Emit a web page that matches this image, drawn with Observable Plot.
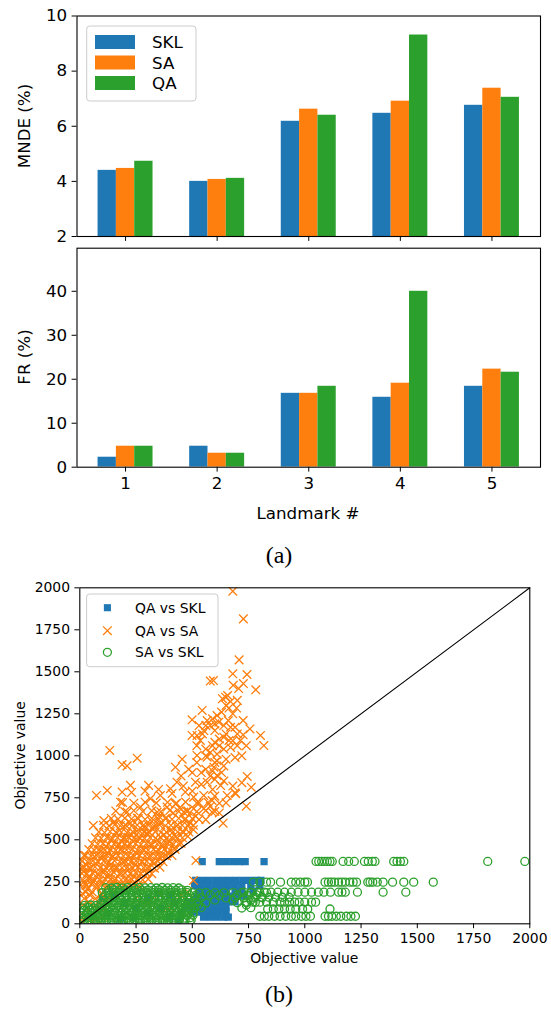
<!DOCTYPE html>
<html><head><meta charset="utf-8">
<script src="https://cdn.jsdelivr.net/npm/d3@7"></script>
<script src="https://cdn.jsdelivr.net/npm/@observablehq/plot@0.6"></script>
<style>
html,body{margin:0;padding:0;background:#fff;}
#root{position:relative;width:551px;height:1009px;overflow:hidden;font-family:'DejaVu Sans';}
#root > svg{position:absolute;left:0;}
#root text{font-family:'DejaVu Sans';}
#root text.serif{font-family:'Liberation Serif';}
</style></head><body><div id="root"></div>
<script>
// ---------- data ----------
const landmarks = [1, 2, 3, 4, 5];
const methods = ["SKL", "SA", "QA"];
const methodColors = ["#1f77b4", "#ff7f0e", "#2ca02c"];
const mndeSKL = [4.40, 4.00, 6.18, 6.47, 6.76];
const mndeSA  = [4.47, 4.07, 6.62, 6.91, 7.38];
const mndeQA  = [4.73, 4.11, 6.40, 9.31, 7.05];
const frSKL = [2.27, 4.77, 16.8, 15.9, 18.4];
const frSA  = [4.77, 3.18, 16.8, 19.1, 22.3];
const frQA  = [4.77, 3.18, 18.4, 40.0, 21.6];
const mndeTicks = [2, 4, 6, 8, 10];
const frTicks = [0, 10, 20, 30, 40];
const objTicks = [0, 250, 500, 750, 1000, 1250, 1500, 1750, 2000];
const scatterNames = ["QA vs SKL", "QA vs SA", "SA vs SKL"];
const diag = [0, 2000];

// QA vs SKL (objective values)
const qaVsSkl = [
[544,370],[620,370],[650,370],[680,370],[710,370],[735,370],[819,370],
[515,258],[545,258],[575,258],[605,258],[635,258],[665,258],[695,258],[725,258],[755,258],[785,258],[805,258],
[510,228],[540,228],[570,228],[600,228],[630,228],[660,228],[690,228],[720,228],[760,228],[800,228],
[530,195],[560,195],[590,195],[620,195],[650,195],[690,195],[720,195],[770,195],
[520,165],[550,165],[580,165],[610,165],[640,165],[670,165],[700,165],[730,165],
[480,130],[510,130],[540,130],[570,130],[600,130],[630,130],[660,130],[690,130],
[470,100],[500,100],[530,100],[560,100],[590,100],[620,100],[650,100],
[500,70],[530,70],[560,70],[590,70],[620,70],[650,70],
[550,40],[580,40],[610,40],[640,40],[660,40],
[100,150],[150,170],[200,120],[250,90],[300,150],[350,180],[400,170],[420,120],[450,60],
[60,40],[120,60],[180,30],[240,40],[300,60],[360,90],[400,40],[440,20]
];

// QA vs SA (objective values)
const qaVsSa = [
[680,1980],[727,1815],[708,1571],[680,1488],[743,1484],[594,1448],[580,1445],[782,1393],[682,1420],[706,1400],
[727,1430],[657,1359],[634,1340],[648,1349],[670,1323],[663,1284],[697,1284],[544,1270],[610,1240],[590,1220],
[499,1214],[566,1210],[618,1200],[640,1180],[726,1210],[660,1210],[690,1170],[580,1180],[545,1130],[499,1121],
[521,1121],[551,1150],[536,1091],[600,1150],[620,1100],[640,1111],[663,1091],[700,1130],[714,1091],[756,1160],
[803,1121],[818,1061],[726,1125],[670,1050],[640,1040],[590,1060],[560,1040],[610,1010],[650,980],[690,990],
[600,960],[640,940],[630,900],[580,880],[540,900],[520,960],
[133,1032],[188,948],[210,940],[255,986],[425,932],[455,980],[484,920],[521,1002],[566,992],[596,932],
[610,883],[626,823],[514,843],[566,843],[744,877],[762,813],[74,764],[122,794],[188,784],[225,824],
[306,824],[358,764],[432,843],[403,804],[469,784],[506,754],[551,764],[588,734],[655,764],[693,774],
[60,585],[107,615],[151,605],[181,724],[210,665],[270,695],[314,745],[344,665],[388,695],[425,714],
[462,665],[506,685],[551,685],[588,665],[637,599],[300,536],[19,407],[11,337],[516,377],[505,258],
[12,180],[25,240],[18,310],[35,205],[42,280],[30,350],[55,190],[60,250],[48,330],[65,400],
[75,215],[82,290],[70,360],[90,430],[95,180],[100,250],[108,320],[98,390],[115,460],[120,210],
[128,280],[135,350],[125,420],[140,500],[150,190],[155,260],[162,330],[148,400],[170,470],[165,540],
[178,230],[185,300],[192,370],[180,440],[200,510],[195,580],[210,250],[215,320],[222,390],[208,460],
[230,530],[225,600],[240,280],[245,350],[252,420],[238,490],[260,560],[255,630],[270,300],[278,370],
[285,440],[268,510],[290,580],[300,330],[308,400],[315,470],[298,540],[320,610],[330,360],[338,430],
[345,500],[328,570],[352,640],[360,390],[368,460],[375,530],[358,600],[390,420],[398,490],[405,560],
[385,630],[420,450],[428,520],[435,590],[415,660],[450,480],[458,550],[465,620],[445,690],[480,520],
[490,600],[475,670],[505,560],[515,640],[530,720],[560,620],[580,700],[600,760],[620,660],[650,720],
[690,780],[720,840],[740,700],
[5,20],[8,60],[14,110],[20,150],[26,190],[30,40],[36,90],[40,130],[46,170],[52,12],
[56,60],[62,105],[70,150],[76,30],[82,80],[90,120],[96,175],[100,40],[110,90],[120,140],
[250,150],[300,120],[350,180],[400,100],[450,170],[480,190],
[5,232],[28,228],[52,235],[75,229],[98,233],[122,227],[146,234],[170,230],[194,228],[218,235],[242,231],[266,226],
[15,262],[40,268],[63,264],[88,261],[112,267],[136,263],[160,269],[184,262],[208,266],[232,264],[256,268],[280,262],[304,266],
[8,302],[32,298],[56,304],[80,299],[104,303],[128,297],[152,305],[176,299],[200,303],[224,298],[248,304],[272,299],[296,303],[320,298],
[20,337],[44,333],[68,339],[92,334],[116,336],[140,332],[164,338],[188,333],[212,337],[236,332],[260,338],[284,334],[308,336],[332,331],[356,337],
[10,372],[34,368],[58,374],[82,369],[106,373],[130,367],[154,375],[178,369],[202,373],[226,368],[250,374],[274,369],[298,373],[322,367],[346,374],[370,369],
[26,407],[50,403],[74,409],[98,404],[122,406],[146,402],[170,408],[194,403],[218,407],[242,402],[266,408],[290,404],[314,406],[338,401],[362,407],[386,403],[410,406],
[40,442],[64,438],[88,444],[112,439],[136,443],[160,437],[184,445],[208,439],[232,443],[256,438],[280,444],[304,439],[328,443],[352,437],[376,444],[400,439],[424,442],
[55,477],[80,473],[104,479],[128,474],[152,476],[176,472],[200,478],[224,473],[248,477],[272,472],[296,478],[320,474],[344,476],[368,471],[392,477],[416,473],[440,476],
[70,512],[95,508],[120,514],[144,509],[168,513],[192,507],[216,515],[240,509],[264,513],[288,508],[312,514],[336,509],[360,513],[384,507],[408,514],[432,509],[456,512],
[85,547],[110,543],[135,549],[160,544],[185,546],[210,542],[235,548],[260,543],[285,547],[310,542],[335,548],[360,544],[385,546],[410,541],[435,547],[460,543],[485,546],
[105,587],[130,583],[155,589],[180,584],[205,586],[230,582],[255,588],[280,583],[305,587],[330,582],[355,588],[380,584],[405,586],[430,581],[455,587],[480,583],[505,586],
[140,627],[170,623],[200,629],[230,624],[260,626],[290,622],[320,628],[350,623],[380,627],[410,622],[440,628],[470,624],[500,626],[530,621],
[160,672],[200,668],[240,674],[280,669],[320,673],[360,667],[400,675],[440,669],[480,673],[520,668],[560,674],[600,669],
[190,722],[240,718],[290,724],[340,719],[390,723],[430,717],[470,725],[520,719],[570,723],[620,718],
[230,782],[290,790],[350,800],[410,776],[460,820],[500,790],[540,830],[590,800],[640,850],[680,820],[450,880],[500,900],[560,920],[600,860],
[560,1000],[580,1020],[600,1080],[620,1060],[650,1130],[670,1170],[630,1260],[650,1300],[680,1250],[700,1330],
[560,1180],[600,1190],[520,1060],[530,1180],[680,1090],[700,1060],[740,1060],[720,1000],[610,970],[590,910]
];

// SA vs SKL (objective values)
const saVsSkl = [
[1050,371],[1062,371],[1075,371],[1088,371],[1100,371],[1112,371],[1122,371],[1170,371],[1195,371],[1220,371],
[1265,371],[1282,371],[1300,371],[1312,371],[1395,371],[1410,371],[1425,371],[1440,371],[1813,371],[1978,371],
[772,248],[800,248],[830,248],[848,248],[892,248],[940,248],[960,248],[980,248],[1000,248],[1012,248],
[1090,248],[1105,248],[1118,248],[1132,248],[1150,248],[1165,248],[1180,248],[1200,248],[1215,248],[1230,248],
[1280,248],[1290,248],[1302,248],[1322,248],[1348,248],[1390,248],[1440,248],[1484,248],[1571,248],
[730,188],[760,188],[790,188],[820,188],[850,188],[880,188],[910,188],[940,188],[970,188],[1000,188],
[1030,188],[1060,188],[1085,188],[1114,188],[1150,188],[1165,188],[1180,188],[1234,188],[1348,188],[1449,188],
[780,158],[810,158],[840,158],[870,158],[900,158],[930,158],
[740,129],[770,129],[800,129],[830,129],[860,129],[890,129],[910,129],[932,129],[955,129],[975,129],[1000,129],[1030,129],[1048,129],
[835,88],[860,88],[885,88],[910,88],[935,88],[960,88],[990,88],[1013,88],[1112,88],
[800,45],[820,45],[840,45],[865,45],[890,45],[915,45],[940,45],[960,45],[985,45],[1005,45],
[1025,45],[1090,45],[1105,45],[1120,45],[1140,45],[1160,45],[1185,45],[1205,45],[1225,45],
[115,215],[142,213],[165,216],[190,214],[214,215],[241,213],[265,216],[290,214],[316,215],[340,213],[366,216],[390,214],[415,215],[440,213],
[100,186],[126,184],[150,187],[176,185],[200,184],[226,187],[251,185],[275,184],[300,186],[326,185],[350,187],[376,184],[400,186],
[425,185],[451,184],[475,187],[500,185],[531,184],[560,186],[601,185],[640,184],[681,186],[720,185],[762,184],[800,186],[830,185],
[105,156],[130,154],[156,157],[180,155],[205,154],[231,156],[255,155],[280,157],[306,154],[330,156],[355,155],[381,154],
[405,156],[430,155],[456,157],[480,154],[511,156],[540,155],[650,154],[690,156],[731,155],[770,154],[810,156],
[95,125],[121,127],[145,124],[170,126],[196,125],[220,127],[245,124],[271,126],[295,125],[320,127],[346,124],
[370,126],[395,125],[421,127],[445,124],[470,126],[496,125],[520,127],[560,124],[700,126],[740,125],[780,127],
[10,95],[35,97],[60,94],[86,96],[110,95],[135,97],[161,94],[185,96],[210,95],[236,97],[260,94],[285,96],
[311,95],[335,97],[360,94],[386,96],[410,95],[435,97],[461,94],[485,96],[510,95],[540,97],[720,94],[760,96],
[5,65],[31,67],[55,64],[80,66],[106,65],[130,67],[155,64],[181,66],[205,65],[230,67],[256,64],[280,66],
[305,65],[331,67],[355,64],[380,66],[406,65],[430,67],[455,64],[481,66],[505,65],
[15,35],[40,37],[66,34],[90,36],[115,35],[141,37],[165,34],[190,36],[216,35],[240,37],[265,34],[291,36],
[315,35],[340,37],[366,34],[390,36],[415,35],[441,37],[465,34],[490,36],
[5,10],[31,12],[55,9],[80,11],[106,10],[130,12],[155,9],[181,11],[205,10],[230,12],[256,9],[280,11],
[305,10],[331,12],[355,9],[380,11],[406,10],[430,12],[460,9],[490,11],
[128,200],[153,202],[178,199],[203,201],[228,200],[253,202],[278,199],[303,201],[328,200],[353,202],[378,199],[403,201],[428,200],[453,202],[478,199],
[112,170],[137,172],[162,169],[187,171],[212,170],[237,172],[262,169],[287,171],[312,170],[337,172],[362,169],[387,171],[412,170],[437,172],[462,169],[487,171],[515,170],[580,172],[620,169],[700,171],[745,170],[785,172],
[108,140],[133,142],[158,139],[183,141],[208,140],[233,142],[258,139],[283,141],[308,140],[333,142],[358,139],[383,141],[408,140],[433,142],[458,139],[483,141],[525,140],[600,142],[680,139],[760,141],
[22,110],[48,112],[73,109],[98,111],[123,110],[148,112],[173,109],[198,111],[223,110],[248,112],[273,109],[298,111],[323,110],[348,112],[373,109],[398,111],[423,110],[448,112],[473,109],[498,111],[525,110],[740,112],
[18,80],[43,82],[68,79],[93,81],[118,80],[143,82],[168,79],[193,81],[218,80],[243,82],[268,79],[293,81],[318,80],[343,82],[368,79],[393,81],[418,80],[443,82],[468,79],[493,81],
[28,50],[53,52],[78,49],[103,51],[128,50],[153,52],[178,49],[203,51],[228,50],[253,52],[278,49],[303,51],[328,50],[353,52],[378,49],[403,51],[428,50],[453,52],[478,49],[503,51],
[18,22],[43,24],[68,21],[93,23],[118,22],[143,24],[168,21],[193,23],[218,22],[243,24],[268,21],[293,23],[318,22],[343,24],[368,21],[393,23],[418,22],[443,24],[468,21],[495,23]
];

// ---------- helpers ----------
const root = document.getElementById("root");
const FS = 16.7, FS2 = 13.9;
function place(svg, top) {
  svg.style.top = top + "px";
  root.appendChild(svg);
  return d3.select(svg);
}
function addText(sel, x, y, str, opts = {}) {
  const t = sel.append("text")
    .attr("x", 0).attr("y", 0)
    .attr("transform", `translate(${x},${y})` + (opts.rotate ? ` rotate(${opts.rotate})` : ""))
    .attr("text-anchor", opts.anchor || "middle")
    .attr("dominant-baseline", "central")
    .attr("fill", "#000")
    .style("font-size", (opts.size || FS) + "px")
    .text(str);
  if (opts.serif) t.attr("class", "serif");
  return t;
}

const seriesMnde = {SKL: mndeSKL, SA: mndeSA, QA: mndeQA};
const seriesFr = {SKL: frSKL, SA: frSA, QA: frQA};
function barRows(series) {
  return landmarks.flatMap((l, i) => methods.map((m, j) => ({landmark: l, method: m, j, value: series[m][i]})));
}
const barW = 0.2;
function barPlot(rows, opts) {
  return Plot.plot({
    width: 551, height: opts.height,
    marginLeft: 76.5, marginRight: 11, marginTop: opts.mt, marginBottom: opts.mb,
    style: {fontFamily: "'DejaVu Sans'", fontSize: FS + "px", color: "#000", background: "transparent", overflow: "visible"},
    x: {type: "linear", domain: [0.47, 5.53], ticks: landmarks, tickSize: 4.9, tickPadding: 4.9,
        tickFormat: opts.xlabels ? (d => String(d)) : (() => ""), label: null},
    y: {domain: opts.ydomain, ticks: opts.yticks, tickSize: 4.9, tickPadding: 4.9, tickFormat: d => String(d), label: null},
    color: {domain: methods, range: methodColors},
    marks: [
      Plot.rect(rows, {
        x1: d => d.landmark + (d.j - 1) * barW - barW / 2,
        x2: d => d.landmark + (d.j - 1) * barW + barW / 2,
        y1: 0, y2: "value", fill: "method", clip: true
      }),
      Plot.frame({stroke: "#000", strokeWidth: 1.1})
    ]
  });
}

// ---------- (a) top: MNDE ----------
const svgA = barPlot(barRows(seriesMnde), {height: 245, mt: 15.5, mb: 9, ydomain: [2, 10], yticks: mndeTicks, xlabels: false});
const sA = place(svgA, 0);
addText(sA, 24, 126, "MNDE (%)", {rotate: -90});
{
  const g = sA.append("g");
  g.append("rect").attr("x", 86.7).attr("y", 26).attr("width", 109.3).attr("height", 75).attr("rx", 3)
    .attr("fill", "#fff").attr("fill-opacity", 0.8).attr("stroke", "#cccccc").attr("stroke-width", 1);
  const ys = [42, 62.5, 83];
  methods.forEach((m, i) => {
    g.append("rect").attr("x", 95).attr("y", ys[i] - 7).attr("width", 40).attr("height", 14).attr("fill", methodColors[i]);
    addText(g, 152, ys[i], m, {anchor: "start"});
  });
}

// ---------- (a) bottom: FR ----------
const svgB = barPlot(barRows(seriesFr), {height: 330, mt: 7.7, mb: 103.3, ydomain: [0, 49.8], yticks: frTicks, xlabels: true});
const sB = place(svgB, 240);
addText(sB, 24, 117, "FR (%)", {rotate: -90});
addText(sB, 308, 273, "Landmark #");
addText(sB, 279, 315, "(a)", {size: 24, serif: true});

// ---------- (b) scatter ----------
const scatterColors = ["#1f77b4", "#ff7f0e", "#2ca02c"];
const svgC = Plot.plot({
  width: 551, height: 439,
  marginLeft: 79.3, marginRight: 21.7, marginTop: 17.3, marginBottom: 85.7,
  style: {fontFamily: "'DejaVu Sans'", fontSize: FS2 + "px", color: "#000", background: "transparent", overflow: "visible"},
  x: {domain: [0, 2000], ticks: objTicks, tickSize: 4.9, tickPadding: 4.9, tickFormat: d3.format("d"), label: null},
  y: {domain: [0, 2000], ticks: objTicks, tickSize: 4.9, tickPadding: 4.9, tickFormat: d3.format("d"), label: null},
  marks: [
    Plot.dot(qaVsSkl, {x: d => d[0], y: d => d[1], symbol: "square", r: 4.1, fill: scatterColors[0], stroke: "none", clip: true}),
    Plot.dot(qaVsSa, {x: d => d[0], y: d => d[1], symbol: "times", r: 4, stroke: scatterColors[1], strokeWidth: 1.3, clip: true}),
    Plot.dot(saVsSkl, {x: d => d[0], y: d => d[1], symbol: "circle", r: 4, fill: "none", stroke: scatterColors[2], strokeWidth: 1.3, clip: true}),
    Plot.line(diag, {x: d => d, y: d => d, stroke: "#000", strokeWidth: 1.1}),
    Plot.frame({stroke: "#000", strokeWidth: 1.1})
  ]
});
const sC = place(svgC, 570);
addText(sC, 19.5, 185.3, "Objective value", {rotate: -90, size: FS2});
addText(sC, 304.3, 388, "Objective value", {size: FS2});
addText(sC, 279, 424, "(b)", {size: 24, serif: true});
{
  const g = sC.append("g");
  g.append("rect").attr("x", 86.6).attr("y", 24).attr("width", 131.4).attr("height", 72.7).attr("rx", 3)
    .attr("fill", "#fff").attr("fill-opacity", 0.8).attr("stroke", "#cccccc").attr("stroke-width", 1);
  const ys = [37.7, 60.7, 82.3];
  const syms = [d3.symbolSquare, d3.symbolTimes, d3.symbolCircle];
  const sz = 4 * 4 * Math.PI;
  syms.forEach((s, i) => {
    const p = g.append("path").attr("d", d3.symbol(s, sz)()).attr("transform", `translate(107.4,${ys[i]})`);
    if (i === 0) p.attr("fill", scatterColors[0]);
    else p.attr("fill", "none").attr("stroke", scatterColors[i]).attr("stroke-width", 1.3);
    addText(g, 135, ys[i], scatterNames[i], {anchor: "start", size: FS2});
  });
}
</script></body></html>
